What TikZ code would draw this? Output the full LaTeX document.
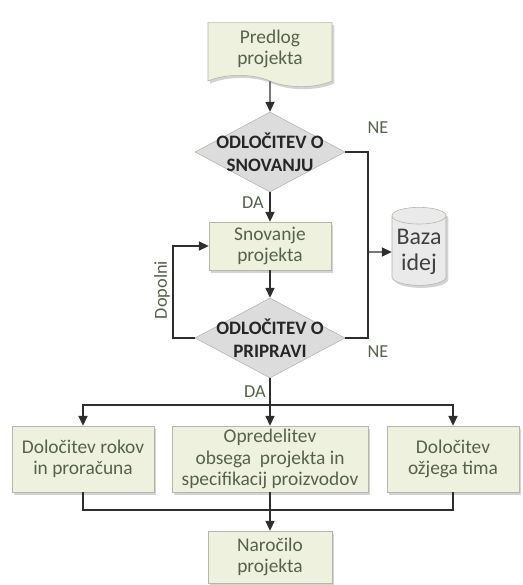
\documentclass[tikz,border=0pt]{standalone}
\usepackage{fontspec}
\setmainfont{Carlito}
\usepackage{tikz}
\usetikzlibrary{arrows.meta, shadows, shapes.geometric, shapes.symbols, positioning}
\definecolor{boxfill}{HTML}{EEF1DE}
\definecolor{boxline}{HTML}{B4B6A8}
\definecolor{decfill}{HTML}{DCDCDC}
\definecolor{txtgreen}{HTML}{56614B}
\definecolor{linegray}{HTML}{2E2E2E}

\begin{document}
\begin{tikzpicture}[
    x=0.025cm, y=-0.025cm,
    every node/.style={font=\fontsize{13.8}{15.2}\selectfont, text=txtgreen, align=center, inner sep=1pt},
    box/.style={rectangle, draw=boxline, fill=boxfill, minimum height=1.65cm,
      drop shadow={shadow xshift=1.6pt, shadow yshift=-1.8pt, opacity=0.35}},
    docbox/.style={tape, tape bend top=none, tape bend bottom=out and in, tape bend height=8pt,
      draw=boxline, fill=boxfill, minimum width=3.1cm, minimum height=1.6cm,
      drop shadow={shadow xshift=1.6pt, shadow yshift=-1.8pt, opacity=0.35}},
    decision/.style={diamond, draw=boxline, fill=decfill, minimum width=3.75cm, minimum height=2cm, inner sep=0pt},
    dectext/.style={font=\bfseries\fontsize{13.5}{16.5}\selectfont, text=black!85},
    store/.style={cylinder, shape border rotate=90, aspect=0.35, draw=boxline, fill=decfill!60,
      minimum width=1.35cm, minimum height=1.95cm, font=\fontsize{17}{18}\selectfont, text=black!75,
      drop shadow={shadow xshift=1.6pt, shadow yshift=-1.8pt, opacity=0.35}},
    lbl/.style={font=\fontsize{13}{14}\selectfont, text=txtgreen},
    flow/.style={draw=linegray, line width=0.9pt},
    >={Triangle[length=7pt, width=6.5pt]}
  ]
  \useasboundingbox (0,0) rectangle (522,585);

  % Top part
  \node[docbox] (predlog) at (270,49) {Predlog\\projekta};
  \node[decision, label={[dectext]center:ODLOČITEV O\\SNOVANJU}] (d1) at (270,152) {};
  \node[box, minimum width=3.05cm, minimum height=1.2cm] (snov) at (270,246) {Snovanje\\projekta};
  \node[decision, label={[dectext]center:ODLOČITEV O\\PRIPRAVI}] (d2) at (270,338) {};
  \node[store] (baza) at (419,252) {Baza\\idej};

  % Three parallel tasks
  \node[box, minimum width=3.55cm] (rok) at (83,459) {Določitev rokov\\in proračuna};
  \node[box, minimum width=4.9cm] (obseg) at (270,459) {Opredelitev\\obsega~ projekta in\\specifikacij proizvodov};
  \node[box, minimum width=3.3cm] (tim) at (453,459) {Določitev\\ožjega tima};
  \node[box, minimum width=3.1cm, minimum height=1.3cm] (narocilo) at (270,557) {Naročilo\\projekta};

  % Labels on the branches
  \node[lbl] (ne1) at (378,128) {NE};
  \node[lbl] (da1) at (253,203) {DA};
  \node[lbl] (ne2) at (378,352) {NE};
  \node[lbl] (da2) at (255,392) {DA};
  \node[lbl, rotate=90] (dop) at (162,290) {Dopolni};

  \coordinate (ne) at (368,252);
  \coordinate (back) at (173,290);
  \coordinate (split) at (270,405);
  \coordinate (join) at (270,510);

  % Connectors
  \draw[flow, ->] (predlog) -- (d1.north);
  \draw[flow, ->] (d1.south) -- (snov.north);
  \draw[flow, ->] (snov.south) -- (d2.north);
  \draw[flow] (d1.east) -| (ne) |- (d2.east);
  \draw[flow, ->] (ne) -- (baza.west);
  \draw[flow, ->] (d2.west) -| (back) |- (snov.west);
  \draw[flow] (d2.south) -- (split);
  \draw[flow, ->] (split) -| (rok.north);
  \draw[flow, ->] (split) -| (tim.north);
  \draw[flow, ->] (split) -- (obseg.north);
  \draw[flow] (rok.south) |- (join) -| (tim.south);
  \draw[flow, ->] (obseg.south) -- (narocilo.north);
\end{tikzpicture}
\end{document}
